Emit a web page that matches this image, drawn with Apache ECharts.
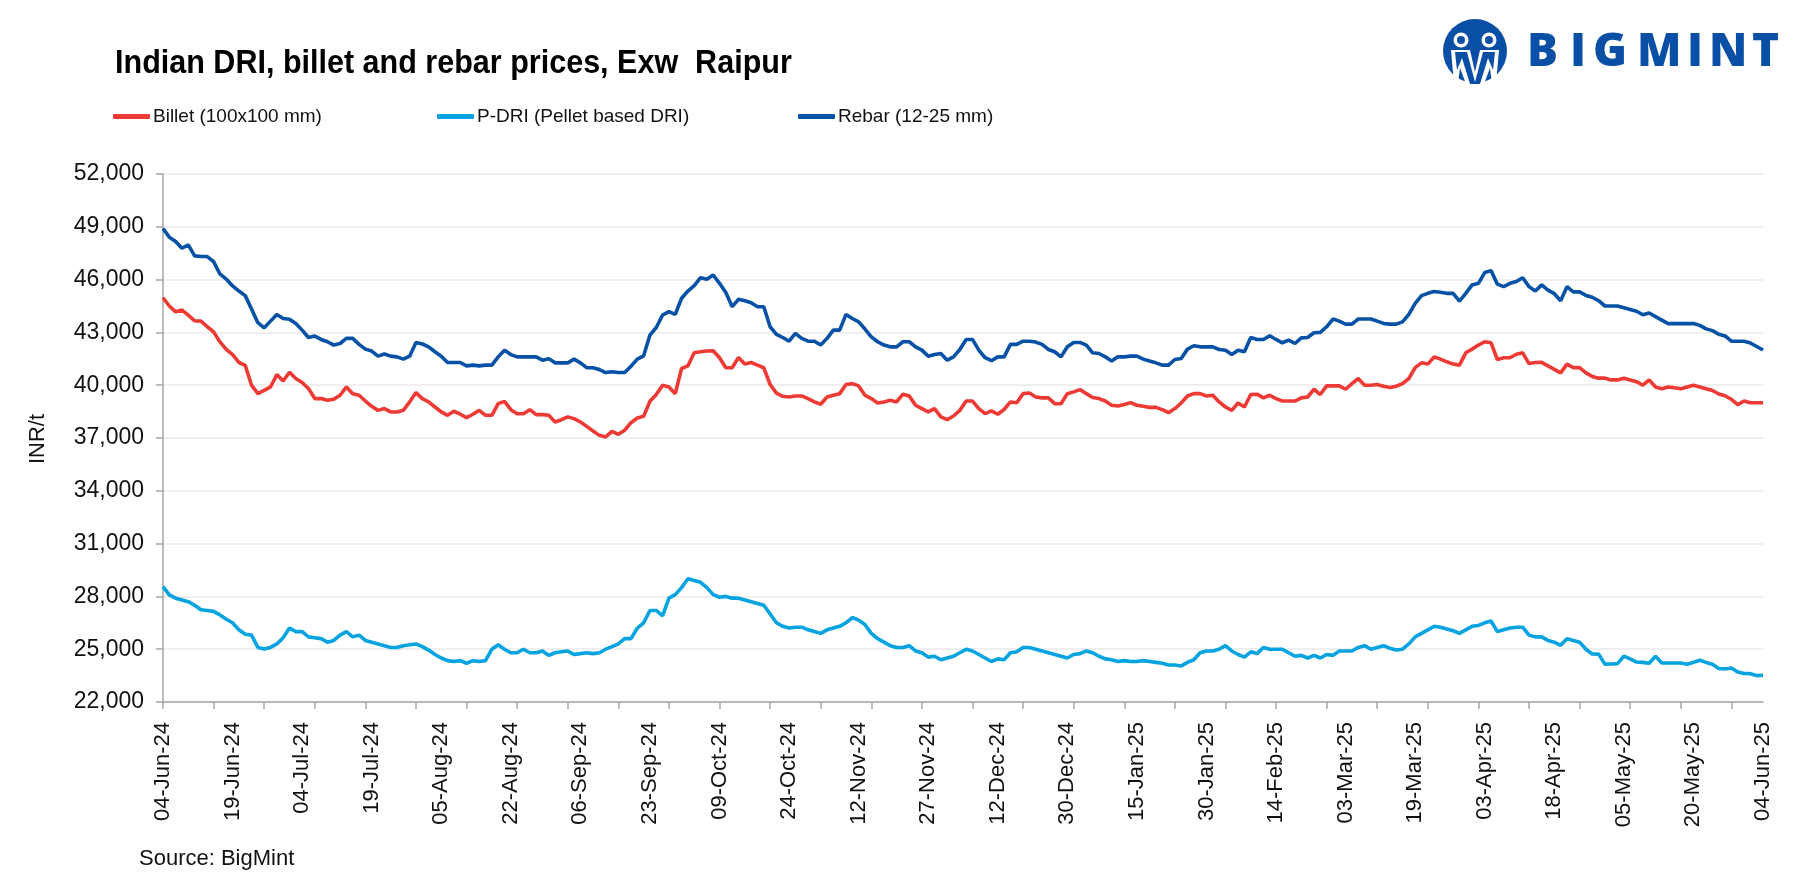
<!DOCTYPE html>
<html>
<head>
<meta charset="utf-8">
<script src="https://cdn.jsdelivr.net/npm/echarts@6/dist/echarts.min.js"></script>
<style>
html,body{margin:0;padding:0;background:#fff;}
#chart{width:1803px;height:893px;}
</style>
</head>
<body>
<div id="chart"></div>
<script>
// Tick labels shown every 11 trading days
const tickLabels = ['04-Jun-24','19-Jun-24','04-Jul-24','19-Jul-24','05-Aug-24','22-Aug-24','06-Sep-24','23-Sep-24','09-Oct-24','24-Oct-24','12-Nov-24','27-Nov-24','12-Dec-24','30-Dec-24','15-Jan-25','30-Jan-25','14-Feb-25','03-Mar-25','19-Mar-25','03-Apr-25','18-Apr-25','05-May-25','20-May-25','04-Jun-25'];

const seriesNames = ['Billet (100x100 mm)', 'P-DRI (Pellet based DRI)', 'Rebar (12-25 mm)'];

// Billet (100x100 mm), INR/t
const billet = [
44970,44500,44170,44270,43980,43660,43640,43320,43030,42460,
42040,41740,41290,41130,40000,39520,39710,39900,40600,40240,
40740,40380,40150,39810,39240,39240,39140,39200,39430,39900,
39520,39430,39100,38800,38570,38670,38480,38480,38570,39050,
39580,39240,39050,38760,38480,38290,38520,38350,38160,38350,
38570,38290,38290,38950,39080,38610,38380,38380,38610,38330,
38330,38290,37910,38040,38200,38100,37910,37660,37400,37150,
37060,37380,37210,37440,37870,38140,38230,39090,39470,40000,
39900,39520,40950,41100,41840,41900,41940,41960,41560,40990,
40990,41580,41200,41290,41140,40990,40040,39550,39370,39330,
39390,39390,39240,39050,38920,39330,39430,39520,40040,40090,
39960,39430,39240,38990,39050,39140,39050,39490,39390,38860,
38670,38480,38670,38200,38040,38250,38570,39100,39100,38670,
38380,38540,38350,38620,39050,39000,39520,39560,39330,39280,
39280,38950,38950,39520,39620,39750,39520,39300,39240,39100,
38860,38820,38900,39010,38860,38800,38740,38740,38610,38440,
38670,38990,39390,39520,39520,39390,39430,39050,38760,38570,
38990,38760,39470,39490,39280,39430,39240,39100,39100,39100,
39280,39330,39770,39470,39960,39960,39960,39770,40090,40380,
40000,40000,40040,39940,39870,39940,40090,40380,41000,41270,
41200,41610,41480,41330,41200,41140,41840,42050,42280,42470,
42410,41460,41560,41560,41760,41840,41230,41290,41300,41100,
40900,40700,41200,41000,41000,40700,40500,40400,40400,40300,
40300,40400,40300,40200,40000,40300,39900,39800,39900,39850,
39800,39900,40000,39900,39800,39700,39500,39400,39200,38900,
39100,39000,39000,39000
];

// P-DRI (Pellet based DRI), INR/t
const pdri = [
28550,28090,27900,27800,27700,27500,27240,27200,27150,26950,
26700,26500,26100,25850,25800,25100,25010,25100,25300,25650,
26200,26000,26000,25700,25650,25600,25400,25500,25800,26000,
25700,25800,25500,25400,25300,25200,25100,25100,25200,25250,
25300,25150,24950,24700,24500,24350,24300,24350,24200,24350,
24300,24350,25000,25250,25000,24800,24800,25000,24800,24800,
24900,24650,24800,24850,24900,24700,24750,24800,24750,24800,
25000,25150,25300,25600,25600,26200,26500,27200,27200,26900,
27900,28100,28500,29000,28900,28800,28500,28100,27950,28000,
27900,27900,27800,27700,27600,27500,27000,26500,26300,26200,
26250,26250,26100,26000,25900,26100,26200,26300,26500,26800,
26650,26400,25900,25600,25400,25200,25100,25100,25200,24900,
24800,24550,24600,24400,24500,24600,24800,25000,24900,24700,
24500,24300,24450,24400,24800,24850,25100,25100,25000,24900,
24800,24700,24600,24500,24700,24750,24900,24800,24600,24450,
24400,24300,24350,24300,24300,24350,24300,24250,24200,24100,
24100,24050,24250,24400,24800,24900,24900,25000,25200,24900,
24700,24550,24850,24750,25100,25000,25000,25000,24800,24600,
24650,24500,24650,24500,24700,24650,24900,24900,24900,25100,
25200,25000,25100,25200,25050,24950,25000,25300,25700,25900,
26100,26300,26250,26150,26050,25900,26100,26300,26350,26500,
26600,26000,26100,26200,26250,26250,25800,25700,25700,25500,
25400,25220,25600,25500,25400,25000,24730,24720,24150,24160,
24180,24610,24450,24270,24250,24200,24600,24220,24220,24220,
24220,24140,24250,24370,24250,24150,23900,23880,23930,23700,
23620,23610,23500,23520
];

// Rebar (12-25 mm), INR/t
const rebar = [
48900,48410,48160,47780,47970,47350,47310,47310,47020,46320,
46030,45640,45350,45090,44330,43550,43260,43640,44020,43790,
43750,43510,43130,42710,42790,42600,42470,42280,42370,42660,
42660,42320,42050,41940,41650,41770,41650,41610,41480,41650,
42430,42340,42180,41900,41650,41290,41290,41290,41100,41140,
41100,41140,41140,41610,41990,41740,41610,41610,41610,41610,
41420,41500,41270,41270,41270,41480,41270,41000,40990,40890,
40720,40760,40720,40720,41080,41480,41670,42850,43280,43990,
44180,44020,44940,45350,45660,46110,46020,46260,45790,45270,
44460,44880,44800,44690,44460,44460,43320,42890,42710,42500,
42940,42660,42500,42500,42280,42660,43130,43130,44020,43790,
43600,43190,42750,42470,42280,42180,42180,42470,42470,42180,
41990,41650,41740,41800,41420,41610,42030,42600,42600,41990,
41560,41390,41610,41610,42320,42320,42500,42500,42450,42320,
42030,41900,41610,42180,42430,42430,42280,41840,41800,41610,
41370,41610,41610,41650,41650,41480,41370,41270,41140,41140,
41460,41520,42050,42240,42180,42180,42180,42030,41990,41740,
41990,41900,42710,42600,42600,42810,42600,42410,42560,42370,
42690,42710,42980,43000,43320,43760,43640,43470,43470,43760,
43760,43760,43640,43510,43470,43470,43600,44020,44650,45090,
45220,45320,45280,45220,45220,44780,45220,45700,45790,46400,
46510,45740,45600,45790,45890,46110,45600,45350,45700,45400,
45200,44800,45600,45300,45300,45100,45000,44800,44500,44500,
44500,44400,44300,44200,44000,44100,43900,43700,43500,43500,
43500,43500,43500,43400,43200,43100,42900,42800,42500,42500,
42500,42400,42200,42000
];

const categories = billet.map((_, i) => i);

const FONT = "'Liberation Sans', Arial, sans-serif";
const TXT = '#111111';
const colors = ['#EE3A35', '#05A3E0', '#0451A5'];

const chart = echarts.init(document.getElementById('chart'), null, {renderer: 'canvas'});

const logoColor = '#0A4FA6';
const logoLetters = ['B','I','G','M','I','N','T'];
const logoX = [1527, 1570, 1593, 1637, 1687, 1709, 1752];

const graphics = [
  {type:'text', left:115, top:47, scaleX:0.925, style:{text:'Indian DRI, billet and rebar prices, Exw  Raipur', font:"bold 33px " + FONT, fill:'#000'}},
  {type:'text', left:139, top:848, style:{text:'Source: BigMint', font:"22px " + FONT, fill:TXT}},
  {type:'text', x:38, y:439, rotation:Math.PI/2, style:{text:'INR/t', font:"22px " + FONT, fill:TXT, align:'center', verticalAlign:'middle'}},
  // logo
  {type:'circle', shape:{cx:1475, cy:51, r:32}, style:{fill:logoColor}},
  {type:'circle', shape:{cx:1461, cy:40, r:7.5}, style:{fill:'#fff'}},
  {type:'circle', shape:{cx:1489, cy:40, r:7.5}, style:{fill:'#fff'}},
  {type:'circle', shape:{cx:1461, cy:40, r:4}, style:{fill:logoColor}},
  {type:'circle', shape:{cx:1489, cy:40, r:4}, style:{fill:logoColor}},
  {type:'polygon', shape:{points:[[1451,50],[1470,50],[1475,72],[1480,50],[1499,50],[1496,84],[1492,84],[1490,68],[1484,84],[1466,84],[1460,68],[1458,84],[1454,84]]}, style:{fill:'#fff'}},
  {type:'polygon', shape:{points:[[1455,52],[1467,52],[1475,82],[1483,52],[1495,52],[1493,70],[1488,58],[1480,84],[1470,84],[1462,58],[1457,70]]}, style:{fill:logoColor}}
];
logoLetters.forEach((ch, k) => {
  graphics.push({type:'text', left:logoX[k], top:30, style:{text:ch, font:"800 46px 'Open Sans', " + FONT, fill:logoColor}});
});
if (billet.length !== rebar.length || billet.length !== pdri.length) {
  graphics.push({type:'text', left:400, top:400, style:{text:'LEN ' + billet.length + ' ' + pdri.length + ' ' + rebar.length, font:'30px sans-serif', fill:'red'}});
}

function legendFor(name, left) {
  return {
    data:[name], left:left, top:107, padding:0, icon:'roundRect', itemWidth:37, itemHeight:5, itemGap:0,
    textStyle:{fontFamily:FONT, fontSize:19, color:TXT, padding:[0,0,0,-2]}, selectedMode:false
  };
}

const option = {
  backgroundColor:'#ffffff',
  animation:false,
  color:colors,
  legend:[legendFor(seriesNames[0], 113), legendFor(seriesNames[1], 437), legendFor(seriesNames[2], 798)],
  grid:{left:163, right:40, top:174, bottom:191, containLabel:false, outerBoundsMode:'none'},
  xAxis:{
    type:'category', data:categories, boundaryGap:false,
    axisLine:{lineStyle:{color:'#A6A6A6', width:1.5}},
    axisTick:{show:true, interval:7, length:7, lineStyle:{color:'#A6A6A6', width:1.5}},
    axisLabel:{interval:10, rotate:90, margin:20, fontFamily:FONT, fontSize:22, color:TXT,
      formatter:(v, idx) => (idx % 11 === 0 ? tickLabels[idx / 11] : '')},
    splitLine:{show:false}
  },
  yAxis:{
    type:'value', min:22000, max:52000, interval:3000,
    axisLine:{show:true, lineStyle:{color:'#A6A6A6', width:1.5}},
    axisTick:{show:true, length:7, lineStyle:{color:'#A6A6A6', width:1.5}},
    axisLabel:{margin:19, fontFamily:FONT, fontSize:23, color:TXT,
      formatter:v => v.toLocaleString('en-US')},
    splitLine:{lineStyle:{color:'#EFEFEF', width:2}}
  },
  series:[
    {name:seriesNames[0], type:'line', data:billet, showSymbol:false, lineStyle:{width:3.6, color:colors[0]}, itemStyle:{color:colors[0]}},
    {name:seriesNames[1], type:'line', data:pdri, showSymbol:false, lineStyle:{width:3.6, color:colors[1]}, itemStyle:{color:colors[1]}},
    {name:seriesNames[2], type:'line', data:rebar, showSymbol:false, lineStyle:{width:3.6, color:colors[2]}, itemStyle:{color:colors[2]}}
  ],
  graphic:graphics
};
chart.setOption(option);
</script>
</body>
</html>
